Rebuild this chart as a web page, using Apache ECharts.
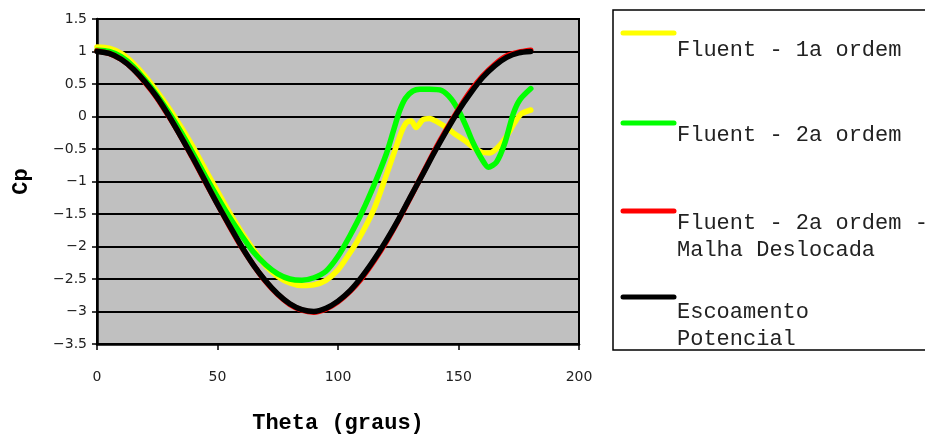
<!DOCTYPE html>
<html>
<head>
<meta charset="utf-8">
<title>Cp x Theta</title>
<script src="https://cdn.jsdelivr.net/npm/echarts@6/dist/echarts.min.js"></script>
<style>
  html, body { margin: 0; padding: 0; background: #ffffff; }
  #chart { width: 925px; height: 434px; }
</style>
</head>
<body>
<div id="chart"></div>
<script>
// Pressure coefficient around the cylinder, Cp versus angle theta (degrees)

const seriesNames = [
  'Fluent - 1a ordem',
  'Fluent - 2a ordem',
  'Fluent - 2a ordem - Malha Deslocada',
  'Escoamento Potencial'
];

// Fluent, 1st order scheme
const thetaFirst = [0, 5, 10, 15, 20, 25, 30, 35, 40, 45, 50, 55, 60, 65, 70, 75, 80, 85, 90, 95, 100, 104, 108, 112, 115, 118, 121, 124, 126.5, 128.5, 130.4, 132.4, 135.2, 138, 141.5, 145, 148.5, 152.6, 156, 159.6, 163, 166.5, 170, 173.4, 176, 180];
const cpFirst = [1.07, 1.05, 0.97, 0.82, 0.62, 0.38, 0.12, -0.17, -0.48, -0.82, -1.15, -1.48, -1.78, -2.05, -2.30, -2.46, -2.56, -2.60, -2.59, -2.52, -2.36, -2.15, -1.92, -1.65, -1.42, -1.12, -0.80, -0.48, -0.22, -0.09, -0.07, -0.17, -0.05, -0.03, -0.09, -0.17, -0.27, -0.37, -0.47, -0.55, -0.56, -0.47, -0.30, -0.09, 0.04, 0.10];

// Fluent, 2nd order scheme
const thetaSecond = [0, 5, 10, 15, 20, 25, 30, 35, 40, 45, 50, 55, 60, 65, 70, 75, 80, 85, 90, 95, 100, 105, 110, 115, 120, 123, 125.5, 128, 131, 134, 138, 143, 147, 150.5, 153.4, 156, 159.6, 162.4, 165.8, 169.3, 172.7, 175.5, 180];
const cpSecond = [1.02, 1.00, 0.92, 0.77, 0.56, 0.32, 0.05, -0.25, -0.58, -0.92, -1.24, -1.55, -1.83, -2.09, -2.28, -2.42, -2.50, -2.52, -2.48, -2.38, -2.15, -1.83, -1.47, -1.05, -0.58, -0.22, 0.08, 0.28, 0.39, 0.42, 0.42, 0.40, 0.27, 0.06, -0.17, -0.40, -0.65, -0.78, -0.70, -0.40, 0.04, 0.26, 0.43];

// Fluent, 2nd order scheme on the shifted mesh
const thetaShifted = [0, 5, 10, 15, 20, 25, 30, 35, 40, 45, 50, 55, 60, 65, 70, 75, 80, 85, 90, 95, 100, 105, 110, 115, 120, 125, 130, 135, 140, 145, 150, 155, 160, 165, 170, 175, 180];
const cpShifted = [1.01, 0.97, 0.88, 0.73, 0.52, 0.28, -0.01, -0.32, -0.66, -1.01, -1.35, -1.69, -2.01, -2.29, -2.54, -2.74, -2.89, -2.98, -3.01, -2.96, -2.85, -2.69, -2.48, -2.22, -1.93, -1.60, -1.25, -0.89, -0.53, -0.20, 0.11, 0.39, 0.62, 0.80, 0.93, 0.99, 1.02];

// Potential flow solution
const thetaPotential = [0, 5, 10, 15, 20, 25, 30, 35, 40, 45, 50, 55, 60, 65, 70, 75, 80, 85, 90, 95, 100, 105, 110, 115, 120, 125, 130, 135, 140, 145, 150, 155, 160, 165, 170, 175, 180];
const cpPotential = [1.00, 0.97, 0.88, 0.73, 0.53, 0.29, 0.00, -0.32, -0.65, -1.00, -1.35, -1.68, -2.00, -2.29, -2.53, -2.73, -2.88, -2.97, -3.00, -2.95, -2.84, -2.68, -2.46, -2.20, -1.91, -1.59, -1.24, -0.90, -0.55, -0.22, 0.09, 0.36, 0.60, 0.78, 0.91, 0.98, 1.00];

const xTicks = [0, 50, 100, 150, 200];
const yTicks = [-3.5, -3, -2.5, -2, -1.5, -1, -0.5, 0, 0.5, 1, 1.5];

const lineColors = ['#ffff00', '#00ff00', '#ff0000', '#000000'];

const pairs = (xs, ys) => xs.map((x, i) => [x, ys[i]]);
const seriesData = [
  pairs(thetaFirst, cpFirst),
  pairs(thetaSecond, cpSecond),
  pairs(thetaShifted, cpShifted),
  pairs(thetaPotential, cpPotential)
];

const monoFont = '"Liberation Mono", "Courier New", monospace';
const tickFont = '"DejaVu Sans", Verdana, sans-serif';
const minusSign = v => String(v).replace('-', '\u2212');

// Legend box drawn on the right
const legendX = 613, legendY = 10, legendW = 330, legendH = 340;
const legendRows = [
  { lineY: 33, textY: 50, lines: ['Fluent - 1a ordem'] },
  { lineY: 123, textY: 135, lines: ['Fluent - 2a ordem'] },
  { lineY: 211, textY: 223, lines: ['Fluent - 2a ordem -', 'Malha Deslocada'] },
  { lineY: 297, textY: 312, lines: ['Escoamento', 'Potencial'] }
];
const legendGraphics = [{
  type: 'rect',
  shape: { x: legendX, y: legendY, width: legendW, height: legendH },
  style: { fill: '#ffffff', stroke: '#000000', lineWidth: 1.5 },
  z: 10
}];
legendRows.forEach((row, i) => {
  legendGraphics.push({
    type: 'line',
    shape: { x1: 623, y1: row.lineY, x2: 674, y2: row.lineY },
    style: { stroke: lineColors[i], lineWidth: 5, lineCap: 'round' },
    z: 11
  });
  row.lines.forEach((txt, j) => {
    legendGraphics.push({
      type: 'text',
      x: 677,
      y: row.textY + j * 27,
      style: {
        text: txt,
        font: '22px ' + monoFont,
        fill: '#222222',
        textVerticalAlign: 'middle',
        verticalAlign: 'middle'
      },
      z: 11
    });
  });
});

const chart = echarts.init(document.getElementById('chart'), null, { renderer: 'canvas' });
chart.setOption({
  animation: false,
  backgroundColor: '#ffffff',
  grid: {
    left: 97, top: 19, width: 482, height: 325,
    containLabel: false,
    outerBoundsMode: 'none',
    show: true,
    backgroundColor: '#c0c0c0',
    borderColor: '#000000',
    borderWidth: 2
  },
  xAxis: {
    type: 'value',
    min: xTicks[0], max: xTicks[xTicks.length - 1], interval: 50,
    name: 'Theta (graus)',
    nameLocation: 'middle',
    nameGap: 68,
    nameTextStyle: { fontFamily: monoFont, fontWeight: 'bold', fontSize: 22, color: '#000000' },
    axisLine: { show: true, onZero: false, lineStyle: { color: '#000000', width: 2.5 } },
    axisTick: { show: true, inside: false, length: 6, lineStyle: { color: '#000000', width: 1.5 } },
    axisLabel: { margin: 26, fontFamily: tickFont, fontSize: 14, color: '#222222', formatter: minusSign },
    splitLine: { show: false }
  },
  yAxis: {
    type: 'value',
    min: yTicks[0], max: yTicks[yTicks.length - 1], interval: 0.5,
    name: 'Cp',
    nameLocation: 'middle',
    nameGap: 65,
    nameRotate: 90,
    nameTextStyle: { fontFamily: monoFont, fontWeight: 'bold', fontSize: 22, color: '#000000' },
    axisLine: { show: true, onZero: false, lineStyle: { color: '#000000', width: 2.5 } },
    axisTick: { show: true, inside: false, length: 5, lineStyle: { color: '#000000', width: 1.5 } },
    axisLabel: { margin: 10, fontFamily: tickFont, fontSize: 14, color: '#222222', formatter: minusSign },
    splitLine: { show: true, lineStyle: { color: '#000000', width: 2 } }
  },
  legend: { show: false },
  series: seriesNames.map((name, i) => ({
    name: name,
    type: 'line',
    data: seriesData[i],
    showSymbol: false,
    symbol: 'none',
    smooth: 0.25,
    lineStyle: { color: lineColors[i], width: 5.5, cap: 'round', join: 'round' },
    z: 3 + i
  })),
  graphic: legendGraphics
});
</script>
</body>
</html>
